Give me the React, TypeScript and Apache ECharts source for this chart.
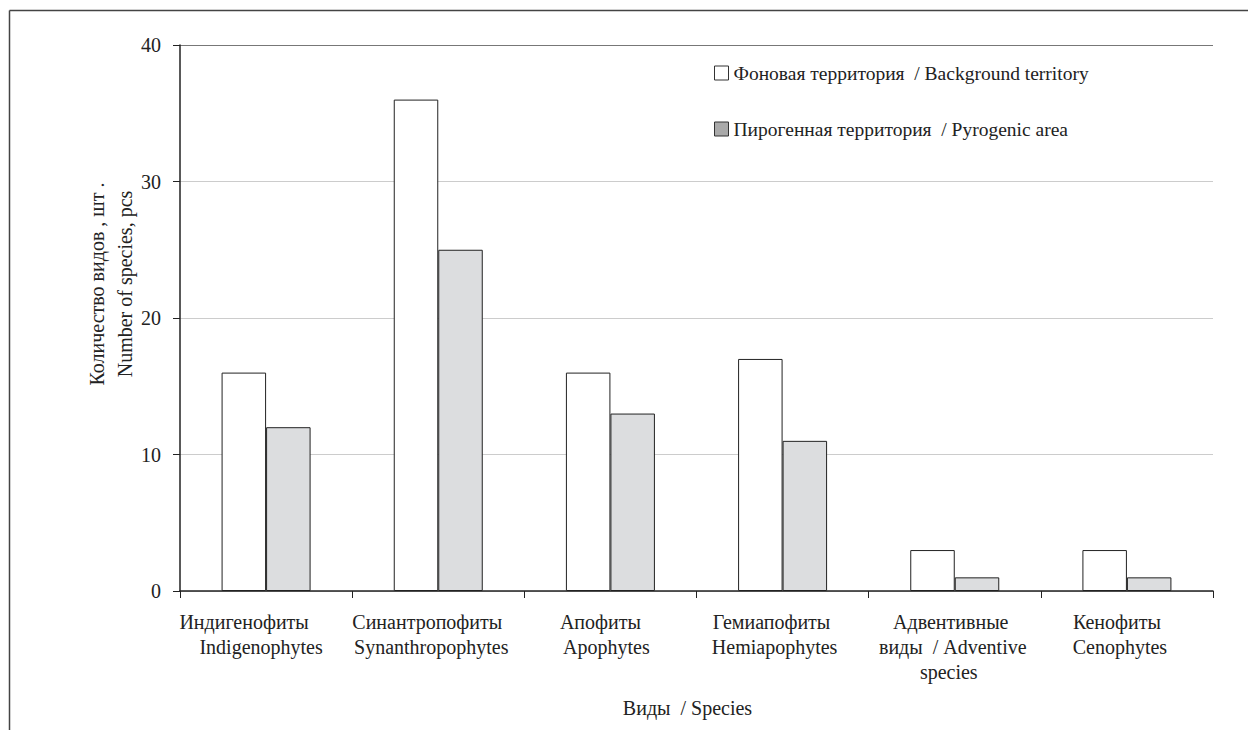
import React, { useEffect, useRef } from "react";
import * as echarts from "echarts";

const categories: string[] = [
  "Индигенофиты\nIndigenophytes",
  "Синантропофиты\nSynanthropophytes",
  "Апофиты\nApophytes",
  "Гемиапофиты\nHemiapophytes",
  "Адвентивные\nвиды  / Adventive\nspecies",
  "Кенофиты\nCenophytes",
];
const backgroundValues: number[] = [16, 36, 16, 17, 3, 3];
const pyrogenicValues: number[] = [12, 25, 13, 11, 1, 1];
const seriesNames: string[] = [
  "Фоновая территория  / Background territory",
  "Пирогенная территория  / Pyrogenic area",
];
const yTicks = { min: 0, max: 40, interval: 10 };
const yTitle = "Количество видов , шт .\nNumber of species, pcs";
const xTitle = "Виды  / Species";

// per-line horizontal nudges of category labels (px, negative = left)
const labelShift: number[][] = [
  [-22, -5],
  [-11, -7],
  [-10, -4],
  [-11, -8],
  [-4, -2, -6],
  [-10, -7],
];

const FONT = "Liberation Serif";
const TXT = "#222";
const FS = 20;

export default function App() {
  const ref = useRef<HTMLDivElement>(null);
  useEffect(() => {
    if (!ref.current) return;
    const chart = echarts.init(ref.current, undefined, { renderer: "svg" });
    const rich: Record<string, any> = {};
    labelShift.forEach((arr, i) =>
      arr.forEach((s, j) => {
        rich[`c${i}l${j}`] = {
          fontFamily: FONT,
          fontSize: FS,
          color: TXT,
          lineHeight: 25,
          padding: s < 0 ? [0, -2 * s, 0, 0] : [0, 0, 0, 2 * s],
        };
      })
    );
    chart.setOption({
      animation: false,
      backgroundColor: "#fff",
      textStyle: { fontFamily: FONT, color: TXT },
      grid: { left: 180, right: 35, top: 45, bottom: 139, containLabel: false },
      legend: {
        orient: "vertical",
        left: 714,
        top: 63,
        padding: 0,
        itemGap: 36,
        itemWidth: 14,
        itemHeight: 14,
        icon: "rect",
        textStyle: { fontFamily: FONT, fontSize: 19.5, color: TXT },
        data: [
          { name: seriesNames[0], itemStyle: { color: "#fff", borderColor: "#333", borderWidth: 1 } },
          { name: seriesNames[1], itemStyle: { color: "#aaaaaa", borderColor: "#333", borderWidth: 1 } },
        ],
      },
      xAxis: {
        type: "category",
        data: categories,
        boundaryGap: true,
        axisLine: { lineStyle: { color: "#222", width: 1.5 } },
        axisTick: { show: true, length: 7, alignWithLabel: false, lineStyle: { color: "#222" } },
        axisLabel: {
          interval: 0,
          margin: 18,
          lineHeight: 25,
          fontSize: FS,
          fontFamily: FONT,
          color: TXT,
          formatter: (value: string, index: number) =>
            value
              .split("\n")
              .map((line, j) => `{c${index}l${j}|${line}}`)
              .join("\n"),
          rich,
        },
        name: xTitle,
        nameLocation: "middle",
        nameGap: 107,
        nameTextStyle: { fontFamily: FONT, fontSize: FS, color: TXT, padding: [0, 18, 0, 0] },
      },
      yAxis: {
        type: "value",
        min: yTicks.min,
        max: yTicks.max,
        interval: yTicks.interval,
        axisLine: { show: true, lineStyle: { color: "#222", width: 1.5 } },
        axisTick: { show: true, length: 7, lineStyle: { color: "#222" } },
        axisLabel: { margin: 19, fontSize: FS, fontFamily: FONT, color: TXT },
        splitLine: {
          show: true,
          lineStyle: { color: ["#cccccc", "#cccccc", "#cccccc", "#cccccc", "#777777"], width: 1 },
        },
      },
      series: [
        {
          name: seriesNames[0],
          type: "bar",
          data: backgroundValues,
          barWidth: 44.5,
          barGap: "0%",
          itemStyle: { color: "#ffffff", borderColor: "#222", borderWidth: 1 },
        },
        {
          name: seriesNames[1],
          type: "bar",
          data: pyrogenicValues,
          barWidth: 44.5,
          barGap: "0%",
          itemStyle: { color: "#dcdddf", borderColor: "#222", borderWidth: 1 },
        },
      ],
      graphic: [
        {
          type: "line",
          shape: { x1: 9.5, y1: 10.5, x2: 1248, y2: 10.5 },
          style: { stroke: "#444", lineWidth: 1.5 },
          silent: true,
        },
        {
          type: "line",
          shape: { x1: 9.5, y1: 10.5, x2: 9.5, y2: 730 },
          style: { stroke: "#444", lineWidth: 1.5 },
          silent: true,
        },
        {
          type: "text",
          x: 111,
          y: 284,
          rotation: Math.PI / 2,
          style: {
            text: yTitle,
            fontFamily: FONT,
            fontSize: FS,
            fill: TXT,
            align: "center",
            verticalAlign: "middle",
            lineHeight: 28,
          },
          silent: true,
        },
      ],
    });
    return () => chart.dispose();
  }, []);
  return (
    <div
      ref={ref}
      style={{ position: "fixed", left: 0, top: 0, width: 1248, height: 730, background: "#fff" }}
    />
  );
}
